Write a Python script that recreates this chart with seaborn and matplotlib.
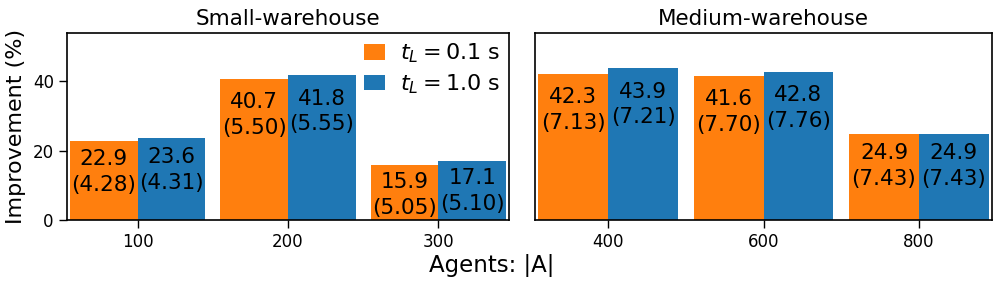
import pandas as pd
import matplotlib
matplotlib.use('Agg')
import matplotlib.pyplot as plt
import seaborn as sns

# values
small_agents = ['100', '200', '300']
medium_agents = ['400', '600', '800']
time_limits = [r'$t_L = 0.1$ s', r'$t_L = 1.0$ s']

small_fast = [22.9, 40.7, 15.9]
small_fast_std = [4.28, 5.50, 5.05]
small_slow = [23.6, 41.8, 17.1]
small_slow_std = [4.31, 5.55, 5.10]

medium_fast = [42.3, 41.6, 24.9]
medium_fast_std = [7.13, 7.70, 7.43]
medium_slow = [43.9, 42.8, 24.9]
medium_slow_std = [7.21, 7.76, 7.43]

colors = ['#ff7f0e', '#1f77b4']


def make_frame(agents, fast, fast_std, slow, slow_std):
    rows = []
    for a, v, s in zip(agents, fast, fast_std):
        rows.append({'Agents': a, 'tL': time_limits[0], 'imp': v, 'std': s})
    for a, v, s in zip(agents, slow, slow_std):
        rows.append({'Agents': a, 'tL': time_limits[1], 'imp': v, 'std': s})
    return pd.DataFrame(rows)


df_small = make_frame(small_agents, small_fast, small_fast_std, small_slow, small_slow_std)
df_medium = make_frame(medium_agents, medium_fast, medium_fast_std, medium_slow, medium_slow_std)

sns.set_theme(style='ticks', rc={'text.color': 'black', 'axes.labelcolor': 'black',
                                 'xtick.color': 'black', 'ytick.color': 'black',
                                 'axes.edgecolor': 'black'})
plt.rcParams['font.family'] = ['DejaVu Sans']

fig = plt.figure(figsize=(9.98, 2.85), dpi=100)
ax1 = fig.add_axes([67 / 998, 1 - 220 / 285, 442 / 998, 187 / 285])
ax2 = fig.add_axes([535 / 998, 1 - 220 / 285, 457 / 998, 187 / 285], sharey=ax1)

for ax, df, title in [(ax1, df_small, 'Small-warehouse'), (ax2, df_medium, 'Medium-warehouse')]:
    sns.barplot(data=df, x='Agents', y='imp', hue='tL', palette=colors,
                saturation=1, width=0.9, ax=ax, linewidth=0,
                legend=(ax is ax1))
    # value (std) labels inside each bar
    for cont, tl in zip(ax.containers, time_limits):
        sub = df[df['tL'] == tl]
        for patch, v, s in zip(cont.patches, sub['imp'], sub['std']):
            xc = patch.get_x() + patch.get_width() / 2
            ax.text(xc, 0.93 * v - 7.5, f'{v:.1f}\n({s:.2f})', ha='center', va='center',
                    fontsize=15.5, multialignment='center', linespacing=1.35)
    ax.set_title(title, fontsize=15.5, pad=6)
    ax.set_xlabel('')
    ax.set_ylabel('')
    ax.set_xlim(-0.47, 2.47)
    ax.tick_params(axis='x', labelsize=12, length=6, width=1)
    ax.tick_params(axis='y', labelsize=12, length=6, width=1)
    for sp in ax.spines.values():
        sp.set_linewidth(1.2)

ax1.set_ylim(0, 54)
ax1.set_yticks([0, 20, 40])
ax2.tick_params(axis='y', left=False, labelleft=False)

ax1.legend(loc='upper right', frameon=False, fontsize=16, handlelength=0.95,
           handleheight=0.7, borderaxespad=0.0, labelspacing=0.3, handletextpad=0.65)

fig.text(0.016, 0.556, 'Improvement (%)', rotation=90, ha='center', va='center', fontsize=16)
fig.text(0.493, 0.068, 'Agents: |A|', ha='center', va='center', fontsize=16.5)

fig.savefig('out.png', dpi=100)
